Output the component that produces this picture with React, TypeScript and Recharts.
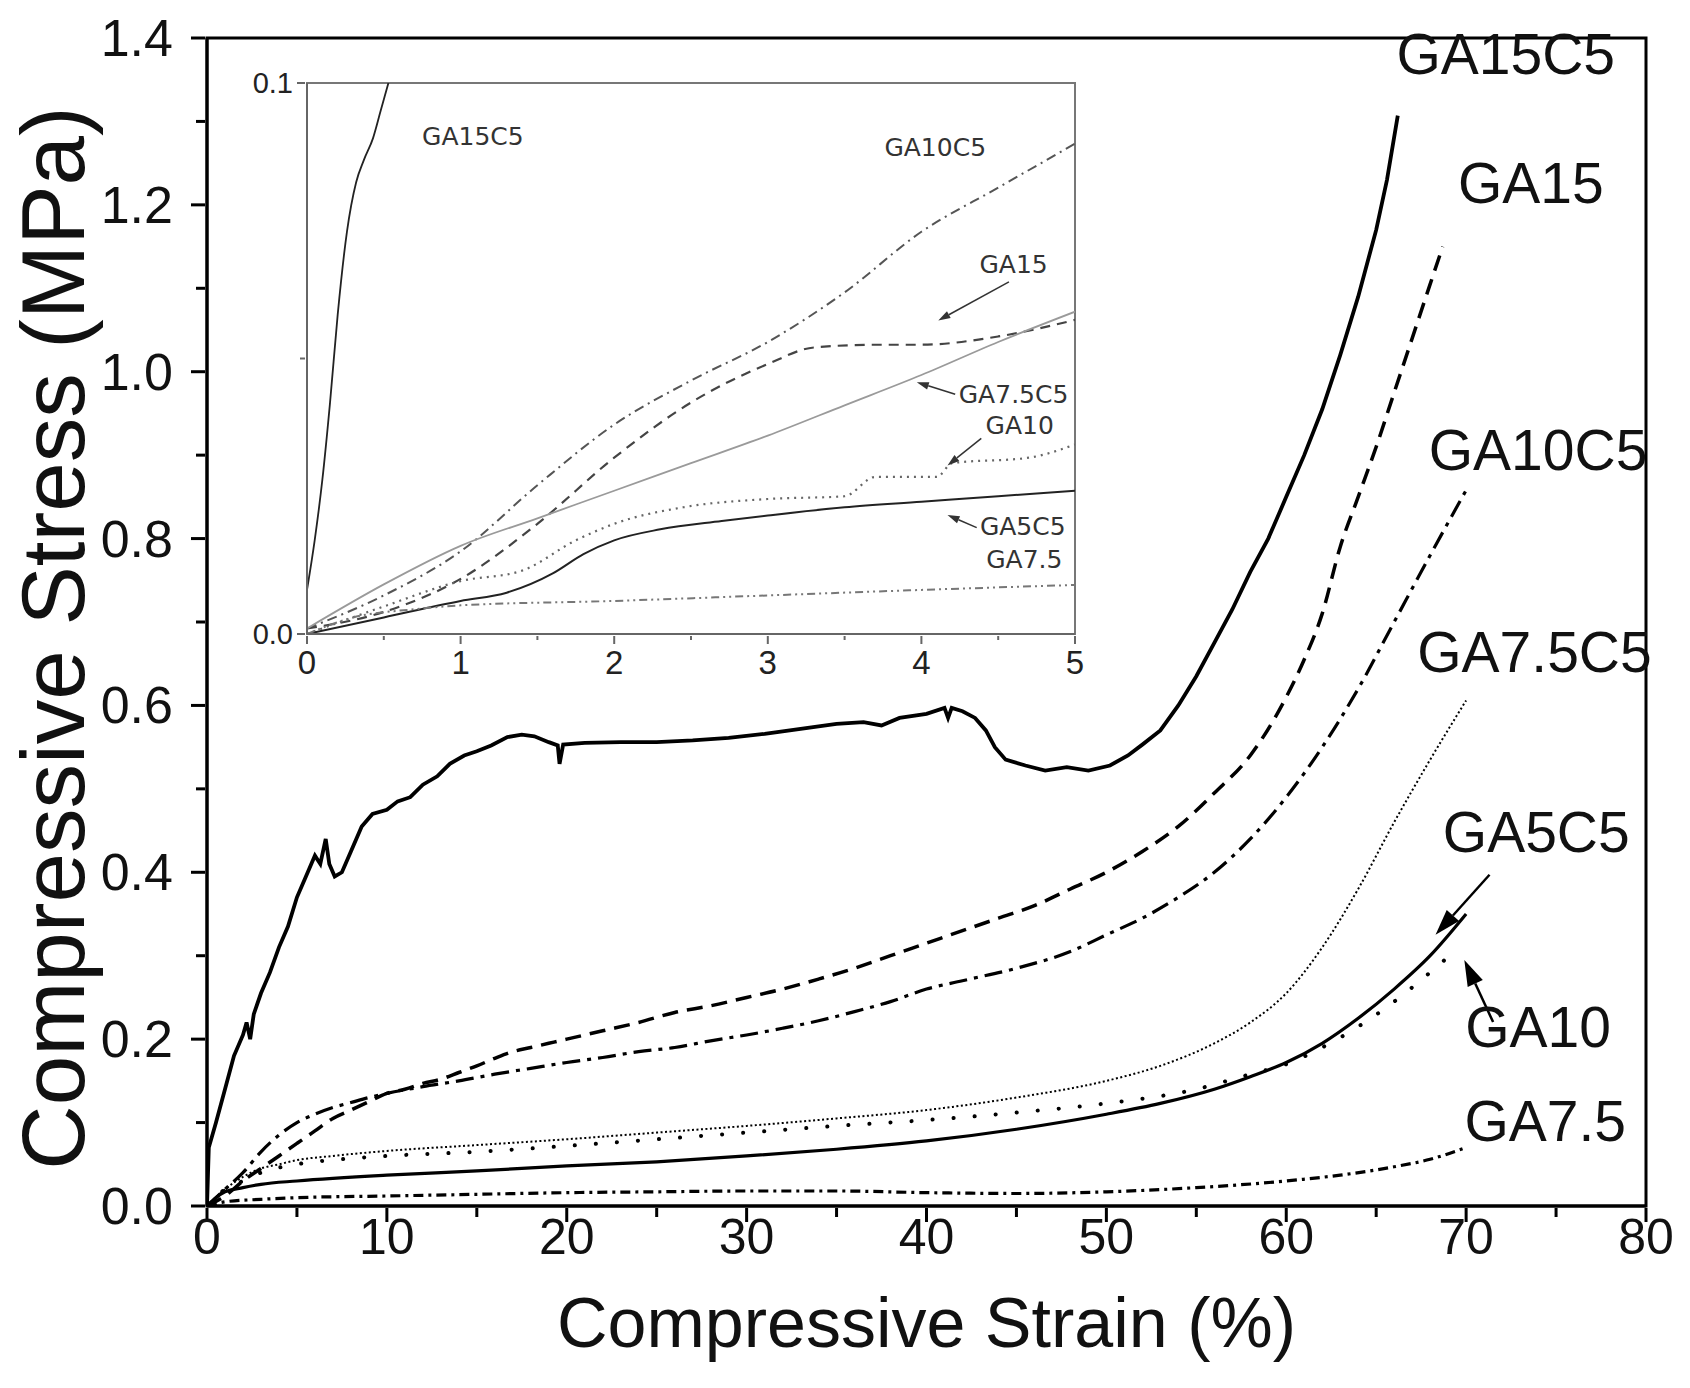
import React from "react";
import {
  LineChart,
  Line,
  XAxis,
  YAxis,
  ReferenceDot,
  ReferenceLine,
  ReferenceArea,
} from "recharts";

// main plot: compressive strain (%) vs stress (MPa)
const ga15c5 = [
  [0, 0], [0.1, 0.07], [0.5, 0.1], [1, 0.14], [1.5, 0.18], [2, 0.205], [2.2, 0.22], [2.4, 0.2],
  [2.6, 0.23], [3, 0.255], [3.5, 0.28], [4, 0.31], [4.5, 0.335], [5, 0.37], [5.5, 0.395],
  [6, 0.42], [6.3, 0.41], [6.6, 0.44], [6.8, 0.41], [7.1, 0.395], [7.5, 0.4], [8, 0.425],
  [8.6, 0.455], [9.2, 0.47], [10, 0.475], [10.6, 0.485], [11.3, 0.49], [12, 0.505], [12.8, 0.515],
  [13.5, 0.53], [14.3, 0.54], [15, 0.545], [15.8, 0.552], [16.7, 0.562], [17.5, 0.565],
  [18.2, 0.563], [19, 0.556], [19.5, 0.552], [19.6, 0.53], [19.8, 0.553], [21, 0.555],
  [23, 0.556], [25, 0.556], [27, 0.558], [29, 0.561], [31, 0.566], [33, 0.572], [35, 0.578],
  [36.5, 0.58], [37.5, 0.576], [38.5, 0.585], [40, 0.59], [41, 0.597], [41.2, 0.585],
  [41.4, 0.597], [42, 0.593], [42.7, 0.585], [43.3, 0.57], [43.8, 0.55], [44.4, 0.535],
  [45.5, 0.528], [46.6, 0.522], [47.8, 0.526], [49, 0.522], [50.2, 0.528], [51.2, 0.54],
  [52, 0.553], [53, 0.57], [54, 0.6], [55, 0.635], [56, 0.675], [57, 0.715], [58, 0.76],
  [59, 0.8], [60, 0.85], [61, 0.9], [62, 0.955], [63, 1.02], [64, 1.09], [65, 1.17],
  [65.6, 1.23], [66.2, 1.307],
];
const ga15 = [
  [0, 0], [1, 0.012], [2, 0.03], [3, 0.045], [4, 0.06], [5, 0.075], [6, 0.09], [7, 0.105],
  [8, 0.115], [9, 0.125], [10, 0.135], [11, 0.14], [12, 0.147], [13, 0.152], [14, 0.16],
  [15, 0.168], [16, 0.177], [17, 0.185], [18, 0.19], [19, 0.195], [20, 0.2], [22, 0.21],
  [24, 0.22], [26, 0.232], [28, 0.24], [30, 0.25], [32, 0.26], [34, 0.272], [36, 0.285],
  [38, 0.3], [40, 0.315], [42, 0.33], [44, 0.345], [46, 0.36], [48, 0.38], [50, 0.4],
  [52, 0.425], [54, 0.455], [56, 0.495], [58, 0.54], [60, 0.61], [61, 0.655], [62, 0.71],
  [63, 0.79], [64, 0.85], [65, 0.91], [66, 0.975], [67, 1.04], [68, 1.105], [68.7, 1.15],
];
const ga10c5 = [
  [0, 0], [1, 0.02], [2, 0.04], [3, 0.065], [4, 0.085], [5, 0.1], [6, 0.11], [7, 0.118],
  [8, 0.124], [9, 0.13], [10, 0.135], [12, 0.143], [14, 0.15], [16, 0.158], [18, 0.165],
  [20, 0.172], [22, 0.178], [24, 0.185], [26, 0.19], [28, 0.198], [30, 0.205], [32, 0.213],
  [34, 0.222], [36, 0.233], [38, 0.245], [40, 0.26], [42, 0.27], [45, 0.285], [48, 0.305],
  [50, 0.325], [52, 0.345], [54, 0.37], [56, 0.4], [58, 0.44], [60, 0.49], [62, 0.55],
  [64, 0.62], [66, 0.7], [68, 0.78], [70, 0.858],
];
const ga75c5 = [
  [0, 0], [1, 0.02], [2, 0.035], [3, 0.045], [4, 0.05], [5, 0.055], [7, 0.06], [10, 0.066],
  [15, 0.073], [20, 0.08], [25, 0.088], [30, 0.096], [35, 0.105], [40, 0.115], [45, 0.13],
  [50, 0.15], [53, 0.168], [56, 0.195], [58, 0.22], [60, 0.255], [62, 0.31], [64, 0.38],
  [66, 0.46], [68, 0.535], [70, 0.606],
];
const ga5c5 = [
  [0, 0], [0.5, 0.01], [1, 0.017], [2, 0.022], [3, 0.026], [5, 0.03], [10, 0.037],
  [15, 0.042], [20, 0.048], [25, 0.053], [30, 0.06], [35, 0.068], [40, 0.078], [45, 0.092],
  [50, 0.11], [53, 0.123], [56, 0.14], [58, 0.155], [60, 0.172], [62, 0.195], [64, 0.225],
  [66, 0.26], [68, 0.3], [70, 0.35],
];
const ga10 = [
  [0, 0], [1, 0.02], [2, 0.03], [3, 0.04], [5, 0.05], [8, 0.057], [10, 0.06], [15, 0.065],
  [20, 0.072], [25, 0.08], [30, 0.088], [35, 0.096], [40, 0.103], [45, 0.112], [50, 0.123],
  [55, 0.14], [58, 0.158], [60, 0.17], [62, 0.19], [64, 0.215], [66, 0.245], [68, 0.28],
  [69.6, 0.31],
];
const ga75 = [
  [0, 0], [1, 0.005], [3, 0.008], [5, 0.01], [10, 0.012], [15, 0.014], [20, 0.016],
  [25, 0.017], [30, 0.018], [35, 0.018], [40, 0.016], [45, 0.015], [50, 0.017], [55, 0.022],
  [60, 0.03], [63, 0.037], [66, 0.047], [68, 0.056], [70, 0.07],
];

// inset: first 5 % of strain
const inGa15c5 = [
  [0, 0.008], [0.05, 0.017], [0.1, 0.028], [0.15, 0.042], [0.2, 0.058], [0.26, 0.073],
  [0.32, 0.082], [0.37, 0.086], [0.43, 0.09], [0.48, 0.095], [0.53, 0.1],
];
const inGa10c5 = [
  [0, 0.001], [0.5, 0.007], [1, 0.015], [1.5, 0.027], [2, 0.038], [2.5, 0.046], [3, 0.053],
  [3.5, 0.062], [4, 0.073], [4.5, 0.081], [5, 0.089],
];
const inGa15 = [
  [0, 0.001], [0.5, 0.004], [1, 0.01], [1.5, 0.02], [2, 0.032], [2.5, 0.042], [3, 0.049],
  [3.3, 0.052], [3.7, 0.0525], [4, 0.0525], [4.5, 0.054], [5, 0.057],
];
const inGa75c5 = [
  [0, 0.001], [0.5, 0.009], [1, 0.016], [1.5, 0.021], [2, 0.026], [2.5, 0.031], [3, 0.036],
  [3.5, 0.0415], [4, 0.047], [4.5, 0.053], [5, 0.0585],
];
const inGa10 = [
  [0, 0], [0.5, 0.005], [1, 0.0096], [1.4, 0.0115], [1.75, 0.017], [2, 0.02], [2.45, 0.023],
  [3, 0.0245], [3.5, 0.025], [3.7, 0.0285], [4.1, 0.0285], [4.2, 0.031], [4.7, 0.032],
  [5, 0.0344],
];
const inGa5c5 = [
  [0, 0], [0.5, 0.003], [1, 0.006], [1.3, 0.0075], [1.6, 0.011], [1.8, 0.0145], [2, 0.017],
  [2.3, 0.019], [2.7, 0.0205], [3, 0.0215], [3.5, 0.023], [4, 0.024], [4.5, 0.025],
  [5, 0.026],
];
const inGa75 = [
  [0, 0], [0.3, 0.003], [0.7, 0.0045], [1, 0.0052], [2, 0.006], [3, 0.007], [4, 0.008],
  [5, 0.0089],
];

const mainXTicks = [0, 5, 10, 15, 20, 25, 30, 35, 40, 45, 50, 55, 60, 65, 70, 75, 80];
const mainYTicks = [0, 0.1, 0.2, 0.3, 0.4, 0.5, 0.6, 0.7, 0.8, 0.9, 1.0, 1.1, 1.2, 1.3, 1.4];
const insetXTicks = [0, 0.5, 1, 1.5, 2, 2.5, 3, 3.5, 4, 4.5, 5];
const insetYTicks = [0, 0.05, 0.1];

// curve names and where they are written (data coords)
const mainTags = [
  { text: "GA15C5", x: 72.2, y: 1.381 },
  { text: "GA15", x: 73.6, y: 1.226 },
  { text: "GA10C5", x: 74.0, y: 0.906 },
  { text: "GA7.5C5", x: 73.8, y: 0.664 },
  { text: "GA5C5", x: 73.9, y: 0.448 },
  { text: "GA10", x: 74.0, y: 0.2145 },
  { text: "GA7.5", x: 74.4, y: 0.102 },
];
const mainArrows = [
  { from: [71.3, 0.397], to: [68.3, 0.325] },
  { from: [71.5, 0.2205], to: [69.9, 0.295] },
];
const insetTags = [
  { text: "GA15C5", x: 1.08, y: 0.0904 },
  { text: "GA10C5", x: 4.09, y: 0.0884 },
  { text: "GA15", x: 4.6, y: 0.0671 },
  { text: "GA7.5C5", x: 4.6, y: 0.0435 },
  { text: "GA10", x: 4.64, y: 0.0379 },
  { text: "GA5C5", x: 4.66, y: 0.0196 },
  { text: "GA7.5", x: 4.67, y: 0.0136 },
];
const insetArrows = [
  { from: [4.57, 0.0639], to: [4.11, 0.0569] },
  { from: [4.22, 0.0435], to: [3.97, 0.0457] },
  { from: [4.39, 0.0355], to: [4.17, 0.0306] },
  { from: [4.36, 0.0193], to: [4.17, 0.0216] },
];

const SANS = "'Liberation Sans', Arial, Helvetica, sans-serif";
const INSET_FONT = "'DejaVu Sans', Verdana, sans-serif";

const pts = (a: number[][]) => a.map(([x, y]) => ({ x, y }));

const mainSeries = [
  { name: "GA15C5", data: ga15c5, width: 3.8, dash: undefined, type: "linear" },
  { name: "GA15", data: ga15, width: 3.5, dash: "16 9", type: "monotone" },
  { name: "GA10C5", data: ga10c5, width: 3.2, dash: "18 7 4 7", type: "monotone" },
  { name: "GA7.5C5", data: ga75c5, width: 2, dash: "2 2.5", type: "monotone" },
  { name: "GA5C5", data: ga5c5, width: 3.2, dash: undefined, type: "monotone" },
  { name: "GA10", data: ga10, width: 4, dash: "0.1 21", type: "monotone", cap: "round" },
  { name: "GA7.5", data: ga75, width: 3.2, dash: "10 5 3 5", type: "monotone" },
];

const insetSeries = [
  { name: "GA15C5", data: inGa15c5, color: "#222", width: 1.8, dash: undefined },
  { name: "GA10C5", data: inGa10c5, color: "#555", width: 2, dash: "10 5 2 5" },
  { name: "GA15", data: inGa15, color: "#444", width: 2.2, dash: "10 7" },
  { name: "GA7.5C5", data: inGa75c5, color: "#9a9a9a", width: 1.8, dash: undefined },
  { name: "GA10", data: inGa10, color: "#666", width: 2.2, dash: "2 5" },
  { name: "GA5C5", data: inGa5c5, color: "#222", width: 2, dash: undefined },
  { name: "GA7.5", data: inGa75, color: "#777", width: 2, dash: "8 4 2 4 2 4" },
];

const arrow = (color: string, w: number, head: number) => (p: any) => {
  const { x1, y1, x2, y2 } = p;
  const a = Math.atan2(y2 - y1, x2 - x1);
  const bx = x2 - head * Math.cos(a);
  const by = y2 - head * Math.sin(a);
  const nx = -Math.sin(a) * head * 0.32;
  const ny = Math.cos(a) * head * 0.32;
  return (
    <g>
      <line x1={x1} y1={y1} x2={bx} y2={by} stroke={color} strokeWidth={w} />
      <polygon points={`${x2},${y2} ${bx + nx},${by + ny} ${bx - nx},${by - ny}`} fill={color} />
    </g>
  );
};

function MainXTick(props: any) {
  const { x, y, payload } = props;
  const v = payload.value;
  const major = v % 10 === 0;
  return (
    <g>
      <line x1={x} x2={x} y1={y} y2={y + (major ? 14 : 9)} stroke="#000" strokeWidth={3} />
      {major && (
        <text x={x} y={y + 46} textAnchor="middle" fontSize={50} fontFamily={SANS} fill="#111">
          {v}
        </text>
      )}
    </g>
  );
}

function MainYTick(props: any) {
  const { x, y, payload } = props;
  const v = payload.value;
  const major = Math.round(v * 10) % 2 === 0;
  return (
    <g>
      <line x1={x} x2={x - (major ? 14 : 9)} y1={y} y2={y} stroke="#000" strokeWidth={3} />
      {major && (
        <text x={x - 32} y={y + 18} textAnchor="end" fontSize={52} fontFamily={SANS} fill="#111">
          {v.toFixed(1)}
        </text>
      )}
    </g>
  );
}

function InsetXTick(props: any) {
  const { x, y, payload } = props;
  const v = payload.value;
  const major = Number.isInteger(v);
  return (
    <g>
      <line x1={x} x2={x} y1={y} y2={y + (major ? 8 : 4)} stroke="#666" strokeWidth={2} />
      {major && (
        <text x={x} y={y + 38} textAnchor="middle" fontSize={33} fontFamily={SANS} fill="#222">
          {v}
        </text>
      )}
    </g>
  );
}

function InsetYTick(props: any) {
  const { x, y, payload } = props;
  const v = payload.value;
  const major = Math.round(v * 100) % 10 === 0;
  return (
    <g>
      <line x1={x} x2={x - (major ? 8 : 5)} y1={y} y2={y} stroke="#666" strokeWidth={2} />
      {major && (
        <text x={x - 12} y={y + 10} textAnchor="end" fontSize={29} fontFamily={SANS} fill="#222">
          {v.toFixed(1)}
        </text>
      )}
    </g>
  );
}

export default function App() {
  return (
    <div
      style={{
        position: "absolute",
        left: 0,
        top: 0,
        width: 1690,
        height: 1388,
        background: "#fff",
        fontFamily: SANS,
      }}
    >
      <LineChart width={1690} height={1388} margin={{ top: 38, right: 44, left: 0, bottom: 0 }}>
        <XAxis
          dataKey="x"
          type="number"
          domain={[0, 80]}
          ticks={mainXTicks}
          interval={0}
          height={182}
          tickSize={0}
          tickLine={false}
          tick={<MainXTick />}
          axisLine={{ stroke: "#000", strokeWidth: 3 }}
          allowDataOverflow
          label={{
            value: "Compressive Strain (%)",
            position: "insideBottom",
            offset: 41,
            fontSize: 70,
            fontFamily: SANS,
            fill: "#111",
          }}
        />
        <YAxis
          dataKey="y"
          type="number"
          domain={[0, 1.4]}
          ticks={mainYTicks}
          interval={0}
          width={207}
          tickSize={0}
          tickLine={false}
          tick={<MainYTick />}
          axisLine={{ stroke: "#000", strokeWidth: 3 }}
          allowDataOverflow
          label={{
            value: "Compressive Stress (MPa)",
            angle: -90,
            position: "insideLeft",
            offset: 52,
            dy: 16,
            textAnchor: "middle",
            fontSize: 89,
            fontFamily: SANS,
            fill: "#111",
          }}
        />
        <ReferenceArea x1={0} x2={80} y1={0} y2={1.4} fill="none" stroke="#000" strokeWidth={3} />
        {mainSeries.map((s) => (
          <Line
            key={s.name}
            data={pts(s.data)}
            dataKey="y"
            type={s.type as any}
            stroke="#000"
            strokeWidth={s.width}
            strokeDasharray={s.dash}
            strokeLinecap={(s as any).cap || "butt"}
            dot={false}
            activeDot={false}
            isAnimationActive={false}
          />
        ))}
        {mainArrows.map((a, i) => (
          <ReferenceLine
            key={"ma" + i}
            segment={[
              { x: a.from[0], y: a.from[1] },
              { x: a.to[0], y: a.to[1] },
            ]}
            shape={arrow("#000", 2.5, 26)}
          />
        ))}
        {mainTags.map((t) => (
          <ReferenceDot
            key={t.text}
            x={t.x}
            y={t.y}
            r={0}
            fill="none"
            stroke="none"
            label={{
              value: t.text,
              position: "center",
              fontSize: 57,
              fontFamily: SANS,
              fill: "#111",
            }}
          />
        ))}
      </LineChart>

      <div style={{ position: "absolute", left: 220, top: 60 }}>
        <LineChart width={880} height={640} margin={{ top: 23, right: 25, left: 0, bottom: 0 }}>
          <XAxis
            dataKey="x"
            type="number"
            domain={[0, 5]}
            ticks={insetXTicks}
            interval={0}
            height={66}
            tickSize={0}
            tickLine={false}
            tick={<InsetXTick />}
            axisLine={{ stroke: "#666", strokeWidth: 2 }}
            allowDataOverflow
          />
          <YAxis
            dataKey="y"
            type="number"
            domain={[0, 0.1]}
            ticks={insetYTicks}
            interval={0}
            width={87}
            tickSize={0}
            tickLine={false}
            tick={<InsetYTick />}
            axisLine={{ stroke: "#666", strokeWidth: 2 }}
            allowDataOverflow
          />
          <ReferenceArea x1={0} x2={5} y1={0} y2={0.1} fill="none" stroke="#777" strokeWidth={2} />
          {insetSeries.map((s) => (
            <Line
              key={s.name}
              data={pts(s.data)}
              dataKey="y"
              type="monotone"
              stroke={s.color}
              strokeWidth={s.width}
              strokeDasharray={s.dash}
              dot={false}
              activeDot={false}
              isAnimationActive={false}
            />
          ))}
          {insetArrows.map((a, i) => (
            <ReferenceLine
              key={"ia" + i}
              segment={[
                { x: a.from[0], y: a.from[1] },
                { x: a.to[0], y: a.to[1] },
              ]}
              shape={arrow("#333", 1.5, 12)}
            />
          ))}
          {insetTags.map((t) => (
            <ReferenceDot
              key={t.text}
              x={t.x}
              y={t.y}
              r={0}
              fill="none"
              stroke="none"
              label={{
                value: t.text,
                position: "center",
                fontSize: 25,
                fontFamily: INSET_FONT,
                fill: "#333",
              }}
            />
          ))}
        </LineChart>
      </div>
    </div>
  );
}
